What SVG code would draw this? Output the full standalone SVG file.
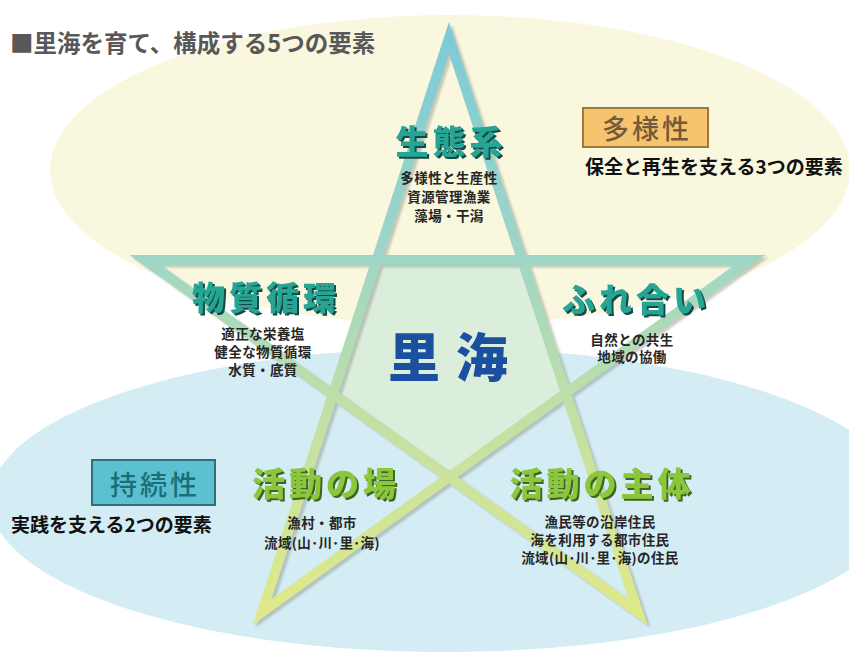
<svg xmlns="http://www.w3.org/2000/svg" width="849" height="660" viewBox="0 0 849 660">
<defs>
<linearGradient id="starGrad" gradientUnits="userSpaceOnUse" x1="0" y1="38" x2="0" y2="612">
<stop offset="0" stop-color="#7ecbd6"/>
<stop offset="0.38" stop-color="#9ed6c6"/>
<stop offset="0.68" stop-color="#c4e1a2"/>
<stop offset="1" stop-color="#dfe98a"/>
</linearGradient>
<filter id="soft" x="-5%" y="-5%" width="110%" height="110%"><feGaussianBlur stdDeviation="1.2"/></filter>
<filter id="shTeal" x="-5%" y="-10%" width="115%" height="130%"><feDropShadow dx="2" dy="2" stdDeviation="0.3" flood-color="#164a44" flood-opacity="1"/></filter>
<filter id="shGreen" x="-5%" y="-10%" width="115%" height="130%"><feDropShadow dx="2" dy="2" stdDeviation="0.3" flood-color="#3d6622" flood-opacity="1"/></filter>
</defs>
<style>
text { font-family: "Noto Sans CJK JP", "Noto Sans", sans-serif; }
.title { font-size: 23.5px; font-weight: 700; fill: #585858; }
.big { font-size: 33px; font-weight: 900; letter-spacing: 4px; text-anchor: middle; }
.teal { fill: #25a494; filter: url(#shTeal); }
.green { fill: #8cc63e; filter: url(#shGreen); }
.sub { font-size: 13.5px; font-weight: 700; fill: #262626; text-anchor: middle; letter-spacing: 0.4px; }
.caption { font-size: 19px; font-weight: 700; fill: #111; }
.boxtxt { font-size: 27px; font-weight: 500; text-anchor: middle; letter-spacing: 3px; }
.center { font-size: 52px; font-weight: 900; fill: #1b4f9f; }
.starline { fill: none; stroke-width: 10; stroke-linejoin: miter; stroke-miterlimit: 6; }
</style>
<rect x="0" y="0" width="849" height="660" fill="#ffffff"/>
<g id="background">
<ellipse cx="450" cy="170" rx="400" ry="155" fill="#f9f7de"/>
<ellipse cx="445" cy="500" rx="455" ry="152" fill="#d4ecf4"/>
<polygon points="377,260 521,260 565,394 447.5,476 333,394" fill="#dbeedc"/>
</g>
<g id="connectors">
<path class="starline" d="M449,38 L262,612 L750,260 L145,260 L638,612 Z" stroke="#8a9088" opacity="0.45" transform="translate(3,2.5)" filter="url(#soft)"/>
<path class="starline" d="M449,38 L262,612 L750,260 L145,260 L638,612 Z" stroke="url(#starGrad)"/>
</g>
<g id="title">
<text class="title" x="10" y="52">■里海を育て、構成する5つの要素</text>
</g>
<g id="node-satoumi">
<text class="center" x="388 456" y="377">里海</text>
</g>
<g id="node-seitaikei">
<text class="big teal" x="451" y="154">生態系</text>
<text class="sub" x="449" y="183">多様性と生産性</text>
<text class="sub" x="449" y="202">資源管理漁業</text>
<text class="sub" x="449" y="221">藻場・干潟</text>
</g>
<g id="node-busshitsu">
<text class="big teal" x="266" y="310">物質循環</text>
<text class="sub" x="263" y="339">適正な栄養塩</text>
<text class="sub" x="263" y="357">健全な物質循環</text>
<text class="sub" x="263" y="375">水質・底質</text>
</g>
<g id="node-fureai">
<text class="big teal" x="636" y="312">ふれ合い</text>
<text class="sub" x="632" y="345">自然との共生</text>
<text class="sub" x="632" y="362">地域の協働</text>
</g>
<g id="node-ba">
<text class="big green" x="326" y="496">活動の場</text>
<text class="sub" x="322" y="528">漁村・都市</text>
<text class="sub" x="322" y="548">流域(山･川･里･海)</text>
</g>
<g id="node-shutai">
<text class="big green" x="602" y="496">活動の主体</text>
<text class="sub" x="600" y="527">漁民等の沿岸住民</text>
<text class="sub" x="600" y="545">海を利用する都市住民</text>
<text class="sub" x="600" y="563">流域(山･川･里･海)の住民</text>
</g>
<g id="node-tayousei">
<rect x="583" y="108" width="125" height="39" fill="#f6c46e" stroke="#9c7a3c" stroke-width="2"/>
<text class="boxtxt" x="647" y="139" fill="#735a38">多様性</text>
<text class="caption" x="585" y="174">保全と再生を支える3つの要素</text>
</g>
<g id="node-jizokusei">
<rect x="92" y="460" width="123" height="45" fill="#5bc0cf" stroke="#2f6f76" stroke-width="2"/>
<text class="boxtxt" x="155" y="495" fill="#1d6d77">持続性</text>
<text class="caption" x="11" y="532">実践を支える2つの要素</text>
</g>
</svg>
